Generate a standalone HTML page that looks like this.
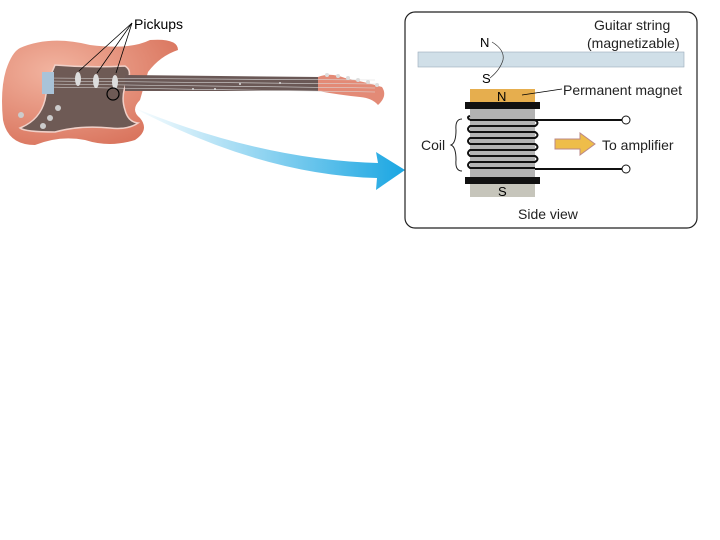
<!DOCTYPE html>
<html><head><style>body{margin:0;background:#fff}svg{display:block}text{font-family:"Liberation Sans",sans-serif}</style></head><body>
<svg width="720" height="540" viewBox="0 0 720 540">
<defs>
<linearGradient id="bl" x1="0" y1="0" x2="1" y2="0"><stop offset="0" stop-color="#fff"/><stop offset="1" stop-color="#1aa6e2"/></linearGradient>
<radialGradient id="bd" cx="0.3" cy="0.3" r="0.8"><stop offset="0" stop-color="#f2b4a0"/><stop offset="1" stop-color="#d9735c"/></radialGradient>
</defs>
<path d="M130,106 Q260,160 378,163 L376,152 L405,170 L376,190 L377,178 Q260,175 130,106 Z" fill="url(#bl)"/>
<path d="M20,48 Q50,35 90,45 Q130,50 150,40 Q178,38 178,50 Q160,56 148,72 L140,100 Q130,110 140,118 Q150,130 135,140 Q110,148 85,140 Q60,135 35,145 Q8,145 3,120 Q0,90 6,70 Q12,52 20,48 Z" fill="url(#bd)"/>
<path d="M55,65 Q90,68 125,66 Q132,70 128,80 Q120,95 125,110 Q128,122 138,123 Q128,130 110,128 Q80,125 55,132 Q25,132 20,128 Q40,120 45,100 Q48,80 55,65 Z" fill="#6e5a55" stroke="#f0d0c8" stroke-width="1.5"/>
<path d="M125,75 L320,77 L320,91 L125,91 Z" fill="#6a5856"/>
<path d="M318,77 Q330,72 345,78 Q365,82 382,87 Q388,96 378,105 Q372,98 360,97 Q340,95 318,91 Z" fill="#e38a76"/>
<g fill="#ddd"><circle cx="327" cy="75" r="2"/><circle cx="338" cy="76" r="2"/><circle cx="348" cy="78" r="2"/><circle cx="358" cy="80" r="2"/><circle cx="368" cy="82" r="2"/><circle cx="377" cy="85" r="2"/></g>
<g stroke="#ddd" stroke-width="0.6"><line x1="45" y1="78" x2="375" y2="80"/><line x1="45" y1="81" x2="375" y2="84"/><line x1="45" y1="84" x2="375" y2="88"/><line x1="45" y1="87" x2="375" y2="92"/></g>
<g fill="#ddd"><circle cx="193" cy="89" r="1"/><circle cx="215" cy="89" r="1"/><circle cx="240" cy="84" r="1"/><circle cx="280" cy="83" r="1"/></g>
<rect x="42" y="72" width="12" height="22" fill="#a9c3d8"/>
<ellipse cx="78" cy="79" rx="3" ry="7" fill="#ddd"/><ellipse cx="96" cy="81" rx="3" ry="7" fill="#ddd"/><ellipse cx="115" cy="82" rx="3" ry="7" fill="#ddd"/>
<circle cx="113" cy="94" r="6" fill="none" stroke="#000" stroke-width="1.2"/>
<g fill="#ccc"><circle cx="58" cy="108" r="3"/><circle cx="50" cy="118" r="3"/><circle cx="43" cy="126" r="3"/><circle cx="21" cy="115" r="3"/></g>
<g stroke="#000" stroke-width="0.8"><line x1="132" y1="23" x2="79" y2="71"/><line x1="132" y1="23" x2="97" y2="73"/><line x1="132" y1="23" x2="116" y2="73"/></g>
<text x="134" y="29" font-size="14">Pickups</text>
<rect x="405" y="12" width="292" height="216" rx="10" fill="#fff" stroke="#222" stroke-width="1.2"/>
<rect x="418" y="52" width="266" height="15" fill="#d0dfe8" stroke="#9ab" stroke-width="0.6"/>
<text x="594" y="30" font-size="14" fill="#222">Guitar string</text>
<text x="587" y="48" font-size="14" fill="#222">(magnetizable)</text>
<text x="480" y="47" font-size="13">N</text><text x="482" y="83" font-size="13">S</text>
<path d="M492,42 Q505,50 503,60 Q500,70 490,78" fill="none" stroke="#333" stroke-width="0.7"/>
<rect x="470" y="89" width="65" height="13" fill="#e6ae4e"/>
<text x="497" y="101" font-size="13">N</text>
<line x1="522" y1="95" x2="562" y2="89" stroke="#000" stroke-width="0.8"/>
<text x="563" y="95" font-size="14" fill="#222">Permanent magnet</text>
<rect x="465" y="102" width="75" height="7" fill="#111"/>
<rect x="470" y="109" width="65" height="68" fill="#b3b3b3"/>
<g fill="none" stroke="#111" stroke-width="2">
<path d="M470,120 H535 Q540,123 535,126 H470 Q466,129 470,132 H535 Q540,135 535,138 H470 Q466,141 470,144 H535 Q540,147 535,150 H470 Q466,153 470,156 H535 Q540,159 535,162 H470 Q466,165 470,168 H535"/>
<path d="M470,120 Q466,117 470,116"/>
</g>
<line x1="535" y1="120" x2="622" y2="120" stroke="#111" stroke-width="2"/>
<line x1="535" y1="169" x2="622" y2="169" stroke="#111" stroke-width="2"/>
<circle cx="626" cy="120" r="4" fill="#fff" stroke="#111"/><circle cx="626" cy="169" r="4" fill="#fff" stroke="#111"/>
<rect x="465" y="177" width="75" height="7" fill="#111"/>
<rect x="470" y="184" width="65" height="13" fill="#c6c5bb"/>
<text x="498" y="196" font-size="13">S</text>
<path d="M555,139 H580 V133 L595,144 L580,155 V149 H555 Z" fill="#eebd4a" stroke="#b88"/>
<text x="602" y="150" font-size="14" fill="#222">To amplifier</text>
<text x="421" y="150" font-size="14" fill="#222">Coil</text>
<path d="M462,119 Q455,119 456,130 Q456,143 451,145 Q456,147 456,160 Q455,171 462,171" fill="none" stroke="#222"/>
<text x="518" y="219" font-size="14" fill="#222">Side view</text>
</svg>
</body></html>
